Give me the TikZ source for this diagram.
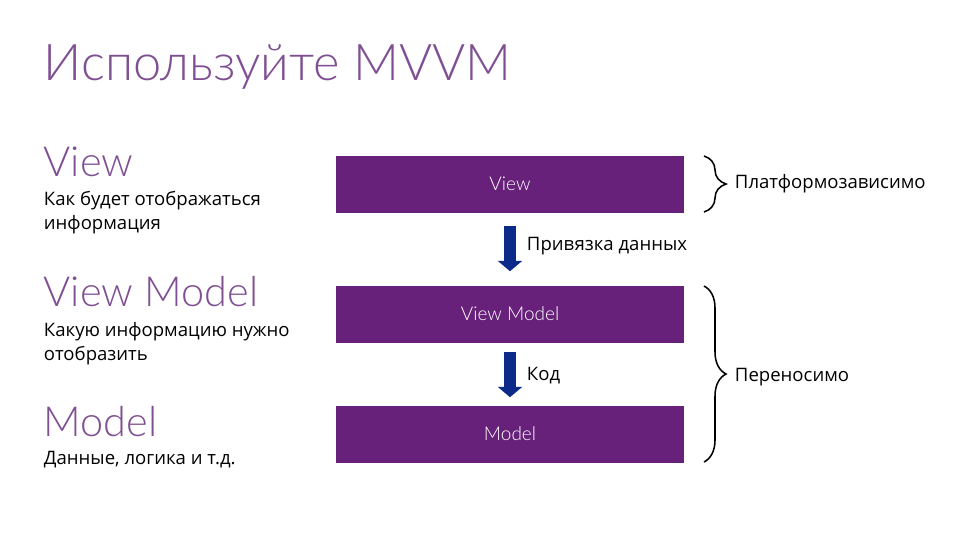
\documentclass[tikz,border=0pt]{standalone}
\usepackage{fontspec}
\setmainfont{Open Sans}
\newfontfamily\lightfont{Lato Light}
\usetikzlibrary{arrows.meta,decorations.pathreplacing}
\definecolor{barpurple}{HTML}{68217A}
\definecolor{headpurple}{HTML}{7F4F92}
\definecolor{arrowblue}{HTML}{0B2A8A}
\tikzset{
  >=stealth,
  headline/.style={headpurple,anchor=base west,font=\lightfont\fontsize{29.5}{29.5}\selectfont},
  desc/.style={black,anchor=base west,align=left,font=\fontsize{13.2}{17}\selectfont},
  note/.style={black,anchor=base west,font=\fontsize{13.2}{15}\selectfont},
  bar/.style={fill=barpurple,text=white,minimum width=8.7cm,minimum height=1.425cm,inner sep=0pt,font=\lightfont\fontsize{13.5}{15}\selectfont},
  flow/.style={arrowblue,line width=0.28cm,-{Triangle[length=0.26cm,width=0.6cm]}},
  curly/.style={line width=1.1pt,black,decorate,decoration={brace,amplitude=0.55cm,aspect=0.5}}
}
\begin{document}
\begin{tikzpicture}
  \useasboundingbox (0,0) rectangle (24,-13.5);

  % Left column
  \node[headpurple,anchor=base west,font=\lightfont\fontsize{36}{36}\selectfont] at (0.97,-2) (title) {Используйте MVVM};
  \node[headline] at (0.97,-4.4) (viewhead) {View};
  \node[desc,anchor=north west] at (0.975,-4.67) (viewdesc) {Как будет отображаться\\информация};
  \node[headline] at (0.97,-7.65) (vmhead) {View Model};
  \node[desc,anchor=north west] at (0.975,-7.93) (vmdesc) {Какую информацию нужно\\отобразить};
  \node[headline] at (0.97,-10.92) (modelhead) {Model};
  \node[note] at (0.975,-11.62) (modeldesc) {Данные, логика и т.д.};

  % Boxes
  \node[bar] at (12.75,-4.6) (view) {View};
  \node[bar] at (12.75,-7.85) (vm) {View Model};
  \node[bar] at (12.75,-10.85) (model) {Model};

  % Arrows
  \draw[flow,shorten <=0.32cm,shorten >=0.35cm] (view) -- (vm);
  \draw[flow,shorten <=0.22cm,shorten >=0.2cm] (vm) -- (model);
  \node[note] at (13.05,-6.27) (bind) {Привязка данных};
  \node[note] at (13.05,-9.52) (code) {Код};

  % Braces
  \coordinate (a1) at (17.6,-3.9);
  \coordinate (a2) at (17.6,-5.3);
  \coordinate (b1) at (17.6,-7.15);
  \coordinate (b2) at (17.6,-11.55);
  \draw[curly] (a1) -- (a2);
  \draw[curly] (b1) -- (b2);
  \node[note] at (18.25,-4.72) (platform) {Платформозависимо};
  \node[note] at (18.25,-9.54) (port) {Переносимо};
\end{tikzpicture}
\end{document}
